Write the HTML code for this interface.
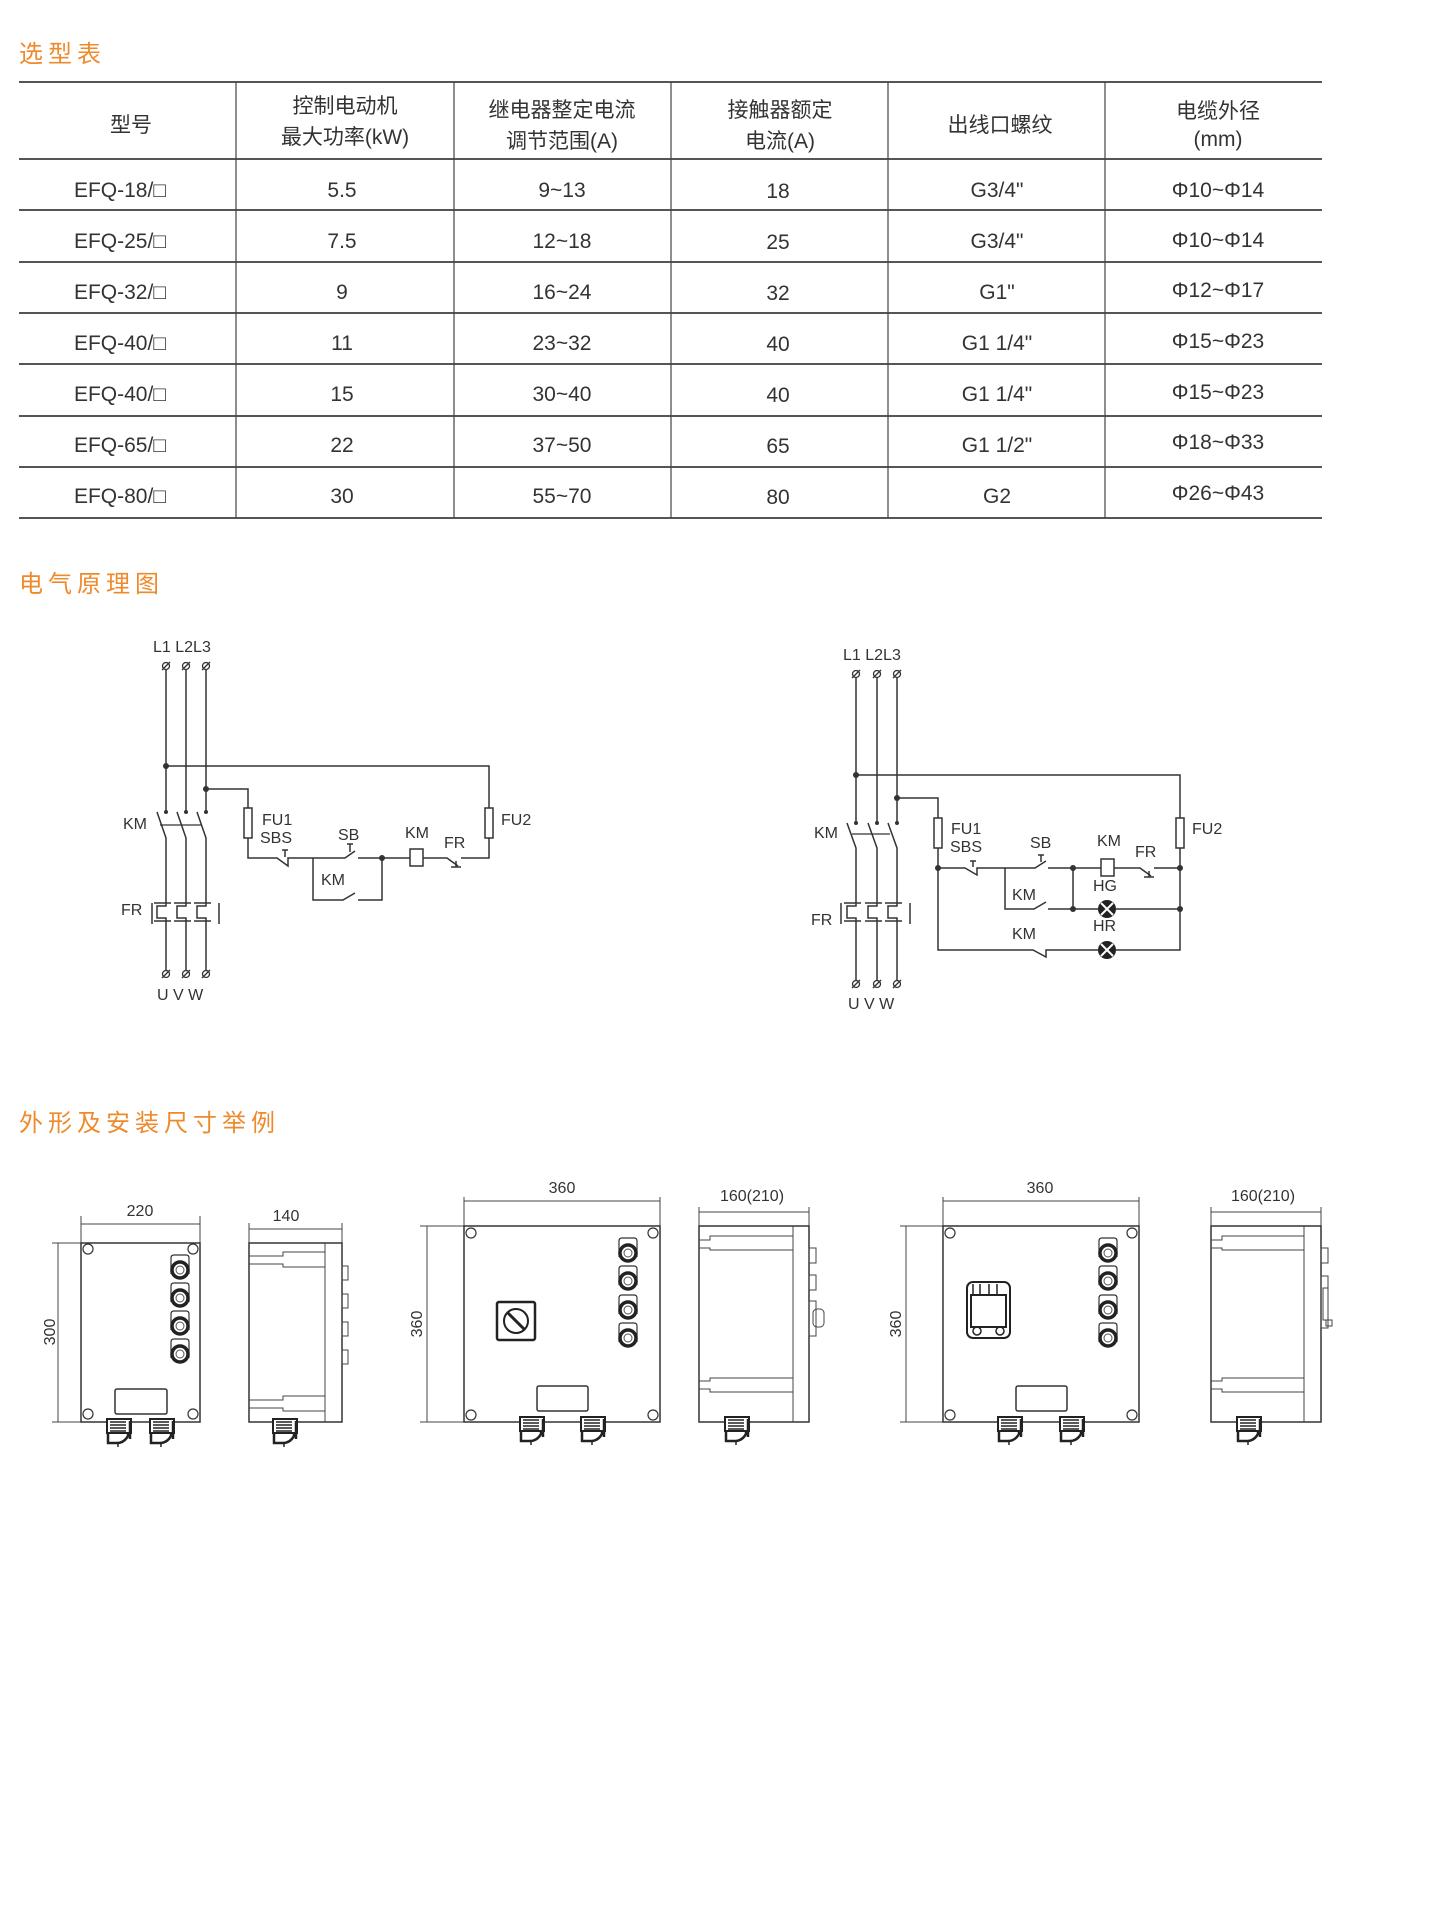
<!DOCTYPE html>
<html><head><meta charset="utf-8"><style>
html,body{margin:0;padding:0;background:#fff;}
svg{display:block;}
text{font-family:"Liberation Sans","Noto Sans CJK SC",sans-serif;fill:#333;}
.t{font-size:21px;text-anchor:middle;}
.o{fill:#ef8a2c;font-size:24px;letter-spacing:5px;}
.c{font-size:16px;fill:#333;}
.w{stroke:#333;stroke-width:1.5;fill:none;}
.d{stroke:#444;stroke-width:1;fill:none;}
</style></head><body>
<svg width="1443" height="1913" viewBox="0 0 1443 1913" xmlns="http://www.w3.org/2000/svg">
<defs>
<g id="term"><circle cx="0" cy="0" r="3.5" fill="#fff" stroke="#333" stroke-width="1.3"/><line x1="-4" y1="4" x2="4" y2="-4" stroke="#333" stroke-width="1.3"/></g>
<g id="fr"><path d="M0,895V903M-12,903H5M0,903V906H-9V918H0V921M-12,921H5M0,921V928" stroke="#333" stroke-width="1.5" fill="none"/></g>
<g id="btn"><path d="M-9,6V-10Q-9,-13 -6,-13H6Q9,-13 9,-10V6" stroke="#333" stroke-width="1.2" fill="none"/><circle cx="0" cy="2" r="8" fill="#fff" stroke="#222" stroke-width="3.5"/><circle cx="0" cy="2" r="4" fill="#fff" stroke="#555" stroke-width="1"/></g>
<g id="gland"><rect x="-12" y="0" width="24" height="14" fill="#fff" stroke="#222" stroke-width="2"/><path d="M-9,3H7M-9,6H7M-9,9H7M-9,12H7" stroke="#222" stroke-width="1.5"/><path d="M-11,14V24H-2Q5,24 9,17V14" stroke="#222" stroke-width="2.5" fill="none"/><line x1="-1" y1="24" x2="-1" y2="28" stroke="#222" stroke-width="1.5"/><path d="M11,2V20" stroke="#222" stroke-width="2.5"/></g>
<g id="hole"><circle r="5" fill="#fff" stroke="#333" stroke-width="1.2"/></g>
</defs>

<text class="o" x="19" y="62">选型表</text>

<line x1="19" y1="82" x2="1322" y2="82" stroke="#555" stroke-width="2"/>
<line x1="19" y1="159" x2="1322" y2="159" stroke="#555" stroke-width="2"/>
<g stroke="#555" stroke-width="2">
<line x1="19" y1="210" x2="1322" y2="210"/><line x1="19" y1="262" x2="1322" y2="262"/>
<line x1="19" y1="313" x2="1322" y2="313"/><line x1="19" y1="364" x2="1322" y2="364"/>
<line x1="19" y1="416" x2="1322" y2="416"/><line x1="19" y1="467" x2="1322" y2="467"/>
<line x1="19" y1="518" x2="1322" y2="518"/>
</g>
<g stroke="#444" stroke-width="1.2">
<line x1="236" y1="82" x2="236" y2="518"/><line x1="454" y1="82" x2="454" y2="518"/>
<line x1="671" y1="82" x2="671" y2="518"/><line x1="888" y1="82" x2="888" y2="518"/>
<line x1="1105" y1="82" x2="1105" y2="518"/>
</g>
<text class="t" x="131" y="132">型号</text>
<text class="t" x="345" y="113">控制电动机</text><text class="t" x="345" y="144">最大功率(kW)</text>
<text class="t" x="562" y="117">继电器整定电流</text><text class="t" x="562" y="148">调节范围(A)</text>
<text class="t" x="780" y="117">接触器额定</text><text class="t" x="780" y="148">电流(A)</text>
<text class="t" x="1000" y="132">出线口螺纹</text>
<text class="t" x="1218" y="118">电缆外径</text><text class="t" x="1218" y="146">(mm)</text>

<g>
<text class="t" x="120" y="197">EFQ-18/□</text><text class="t" x="342" y="197">5.5</text><text class="t" x="562" y="197">9~13</text><text class="t" x="778" y="198">18</text><text class="t" x="997" y="197">G3/4"</text><text class="t" x="1218" y="197">Φ10~Φ14</text>
<text class="t" x="120" y="248">EFQ-25/□</text><text class="t" x="342" y="248">7.5</text><text class="t" x="562" y="248">12~18</text><text class="t" x="778" y="249">25</text><text class="t" x="997" y="248">G3/4"</text><text class="t" x="1218" y="247">Φ10~Φ14</text>
<text class="t" x="120" y="299">EFQ-32/□</text><text class="t" x="342" y="299">9</text><text class="t" x="562" y="299">16~24</text><text class="t" x="778" y="300">32</text><text class="t" x="997" y="299">G1"</text><text class="t" x="1218" y="297">Φ12~Φ17</text>
<text class="t" x="120" y="350">EFQ-40/□</text><text class="t" x="342" y="350">11</text><text class="t" x="562" y="350">23~32</text><text class="t" x="778" y="351">40</text><text class="t" x="997" y="350">G1 1/4"</text><text class="t" x="1218" y="348">Φ15~Φ23</text>
<text class="t" x="120" y="401">EFQ-40/□</text><text class="t" x="342" y="401">15</text><text class="t" x="562" y="401">30~40</text><text class="t" x="778" y="402">40</text><text class="t" x="997" y="401">G1 1/4"</text><text class="t" x="1218" y="399">Φ15~Φ23</text>
<text class="t" x="120" y="452">EFQ-65/□</text><text class="t" x="342" y="452">22</text><text class="t" x="562" y="452">37~50</text><text class="t" x="778" y="453">65</text><text class="t" x="997" y="452">G1 1/2"</text><text class="t" x="1218" y="449">Φ18~Φ33</text>
<text class="t" x="120" y="503">EFQ-80/□</text><text class="t" x="342" y="503">30</text><text class="t" x="562" y="503">55~70</text><text class="t" x="778" y="504">80</text><text class="t" x="997" y="503">G2</text><text class="t" x="1218" y="500">Φ26~Φ43</text>
</g>

<text class="o" x="19" y="592">电气原理图</text>

<!-- Circuit 1 -->
<g class="w">
<path d="M166,670V811M186,670V811M206,670V811"/>
<path d="M157,812L166,838V895M177,812L186,838V895M197,812L206,838V895"/>
<path d="M160,825H202" stroke-width="1.2"/>
<path d="M166,928V970M186,928V970M206,928V970"/>
<path d="M152,903V924M219,903V924"/>
<path d="M166,766H489V808M206,789H248V808"/>
<rect x="244" y="808" width="8" height="30"/><rect x="485" y="808" width="8" height="30"/>
<path d="M248,838V858H277L288,866V858H345L355,851M358,858H410M423,858H447L458,866M461,858H489V838"/>
<path d="M282,850H288M285,850V857M451,867H461M456,867V861"/>
<path d="M347,844H353M350,844V852"/>
<rect x="410" y="849" width="13" height="17"/>
<path d="M313,858V900H343L355,893M358,900H382V858"/>
</g>
<g fill="#333"><circle cx="166" cy="766" r="3"/><circle cx="206" cy="789" r="3"/><circle cx="382" cy="858" r="3"/>
<circle cx="166" cy="812" r="2"/><circle cx="186" cy="812" r="2"/><circle cx="206" cy="812" r="2"/></g>
<use href="#fr" x="166"/><use href="#fr" x="186"/><use href="#fr" x="206"/>
<use href="#term" x="166" y="666"/><use href="#term" x="186" y="666"/><use href="#term" x="206" y="666"/>
<use href="#term" x="166" y="974"/><use href="#term" x="186" y="974"/><use href="#term" x="206" y="974"/>
<text class="c" x="153" y="652">L1 L2L3</text>
<text class="c" x="123" y="829">KM</text><text class="c" x="121" y="915">FR</text>
<text class="c" x="262" y="825">FU1</text><text class="c" x="260" y="843">SBS</text>
<text class="c" x="338" y="840">SB</text><text class="c" x="405" y="838">KM</text><text class="c" x="444" y="848">FR</text>
<text class="c" x="501" y="825">FU2</text><text class="c" x="321" y="885">KM</text>
<text class="c" x="157" y="1000">U  V  W</text>

<!-- Circuit 2 -->
<g class="w">
<path d="M856,678V822M877,678V822M897,678V822"/>
<path d="M847,823L856,848V895M868,823L877,848V895M888,823L897,848V895"/>
<path d="M852,834H890" stroke-width="1.2"/>
<path d="M856,928V980M877,928V980M897,928V980"/>
<path d="M841,903V924M910,903V924"/>
<path d="M856,775H1180V818M897,798H938V818"/>
<rect x="934" y="818" width="8" height="30"/><rect x="1176" y="818" width="8" height="30"/>
<path d="M938,848V950H1033L1046,957V950H1098M1116,950H1180V848"/>
<path d="M938,868H965L977,875V868H1035L1046,861M1048,868H1101M1114,868H1140L1151,876M1154,868H1180"/>
<path d="M970,861H976M973,861V867M1144,877H1154M1149,877V871M1038,855H1044M1041,855V862"/>
<rect x="1101" y="859" width="13" height="17"/>
<path d="M1005,868V909H1034L1046,902M1048,909H1098M1116,909H1180M1073,868V909"/>
</g>
<g fill="#333"><circle cx="856" cy="775" r="3"/><circle cx="897" cy="798" r="3"/><circle cx="938" cy="868" r="3"/><circle cx="1073" cy="868" r="3"/><circle cx="1073" cy="909" r="3"/><circle cx="1180" cy="868" r="3"/><circle cx="1180" cy="909" r="3"/>
<circle cx="856" cy="823" r="2"/><circle cx="877" cy="823" r="2"/><circle cx="897" cy="823" r="2"/></g>
<g transform="translate(690,0)"><use href="#fr" x="166"/><use href="#fr" x="187"/><use href="#fr" x="207"/></g>
<g><circle cx="1107" cy="909" r="9" fill="#222"/><path d="M1101,903L1113,915M1113,903L1101,915" stroke="#fff" stroke-width="2"/>
<circle cx="1107" cy="950" r="9" fill="#222"/><path d="M1101,944L1113,956M1113,944L1101,956" stroke="#fff" stroke-width="2"/></g>
<use href="#term" x="856" y="674"/><use href="#term" x="877" y="674"/><use href="#term" x="897" y="674"/>
<use href="#term" x="856" y="984"/><use href="#term" x="877" y="984"/><use href="#term" x="897" y="984"/>
<text class="c" x="843" y="660">L1 L2L3</text>
<text class="c" x="814" y="838">KM</text><text class="c" x="811" y="925">FR</text>
<text class="c" x="951" y="834">FU1</text><text class="c" x="950" y="852">SBS</text>
<text class="c" x="1030" y="848">SB</text><text class="c" x="1097" y="846">KM</text><text class="c" x="1135" y="857">FR</text>
<text class="c" x="1192" y="834">FU2</text><text class="c" x="1012" y="900">KM</text>
<text class="c" x="1093" y="891">HG</text><text class="c" x="1093" y="931">HR</text><text class="c" x="1012" y="939">KM</text>
<text class="c" x="848" y="1009">U  V  W</text>

<text class="o" x="19" y="1131">外形及安装尺寸举例</text>

<!-- Box 1 front -->
<g class="d">
<line x1="81" y1="1216" x2="81" y2="1243"/><line x1="200" y1="1216" x2="200" y2="1243"/>
<line x1="81" y1="1224" x2="200" y2="1224"/>
<line x1="52" y1="1243" x2="81" y2="1243"/><line x1="52" y1="1422" x2="81" y2="1422"/>
<line x1="58" y1="1243" x2="58" y2="1422"/>
</g>
<rect x="81" y="1243" width="119" height="179" fill="none" stroke="#333" stroke-width="1.5"/>
<use href="#hole" x="88" y="1249"/><use href="#hole" x="193" y="1249"/><use href="#hole" x="88" y="1414"/><use href="#hole" x="193" y="1414"/>
<use href="#btn" x="180" y="1268"/><use href="#btn" x="180" y="1296"/><use href="#btn" x="180" y="1324"/><use href="#btn" x="180" y="1352"/>
<rect x="115" y="1389" width="52" height="25" rx="2" fill="none" stroke="#333" stroke-width="1.5"/>
<use href="#gland" x="119" y="1419"/><use href="#gland" x="162" y="1419"/>
<text class="c" x="140" y="1216" text-anchor="middle">220</text>
<text class="c" transform="translate(55,1332) rotate(-90)" text-anchor="middle">300</text>
<!-- Box 1 side -->
<g class="d"><line x1="249" y1="1223" x2="249" y2="1243"/><line x1="342" y1="1223" x2="342" y2="1243"/><line x1="249" y1="1229" x2="342" y2="1229"/></g>
<rect x="249" y="1243" width="93" height="179" fill="none" stroke="#333" stroke-width="1.5"/>
<g class="d"><line x1="325" y1="1243" x2="325" y2="1422"/>
<path d="M249,1256H283V1252H325M249,1264H283V1267H325M249,1400H283V1396H325M249,1408H283V1411H325"/>
<rect x="342" y="1266" width="6" height="14"/><rect x="342" y="1294" width="6" height="14"/><rect x="342" y="1322" width="6" height="14"/><rect x="342" y="1350" width="6" height="14"/></g>
<use href="#gland" x="285" y="1419"/>
<text class="c" x="286" y="1221" text-anchor="middle">140</text>

<!-- Box 2 front -->
<g class="d">
<line x1="464" y1="1197" x2="464" y2="1226"/><line x1="660" y1="1197" x2="660" y2="1226"/>
<line x1="464" y1="1201" x2="660" y2="1201"/>
<line x1="420" y1="1226" x2="464" y2="1226"/><line x1="420" y1="1422" x2="464" y2="1422"/>
<line x1="427" y1="1226" x2="427" y2="1422"/>
</g>
<rect x="464" y="1226" width="196" height="196" fill="none" stroke="#333" stroke-width="1.5"/>
<use href="#hole" x="471" y="1233"/><use href="#hole" x="653" y="1233"/><use href="#hole" x="471" y="1415"/><use href="#hole" x="653" y="1415"/>
<use href="#btn" x="628" y="1251"/><use href="#btn" x="628" y="1279"/><use href="#btn" x="628" y="1308"/><use href="#btn" x="628" y="1336"/>
<rect x="497" y="1302" width="38" height="38" rx="2" fill="none" stroke="#222" stroke-width="2.5"/>
<circle cx="516" cy="1321" r="12" fill="none" stroke="#222" stroke-width="2"/><line x1="507" y1="1312" x2="525" y2="1330" stroke="#222" stroke-width="3"/>
<rect x="537" y="1386" width="51" height="25" rx="2" fill="none" stroke="#333" stroke-width="1.5"/>
<use href="#gland" x="532" y="1417"/><use href="#gland" x="593" y="1417"/>
<text class="c" x="562" y="1193" text-anchor="middle">360</text>
<text class="c" transform="translate(422,1324) rotate(-90)" text-anchor="middle">360</text>
<!-- Box 2 side -->
<g class="d"><line x1="699" y1="1207" x2="699" y2="1226"/><line x1="809" y1="1207" x2="809" y2="1226"/><line x1="699" y1="1212" x2="809" y2="1212"/></g>
<rect x="699" y="1226" width="110" height="196" fill="none" stroke="#333" stroke-width="1.5"/>
<g class="d"><line x1="793" y1="1226" x2="793" y2="1422"/>
<path d="M699,1240H710V1236H793M699,1248H710V1250H793M699,1381H710V1378H793M699,1389H710V1392H793"/>
<rect x="809" y="1248" width="7" height="15"/><rect x="809" y="1275" width="7" height="15"/><rect x="809" y="1301" width="7" height="35"/><rect x="813" y="1309" width="11" height="18" rx="4"/></g>
<use href="#gland" x="737" y="1417"/>
<text class="c" x="752" y="1201" text-anchor="middle">160(210)</text>

<!-- Box 3 front -->
<g class="d">
<line x1="943" y1="1197" x2="943" y2="1226"/><line x1="1139" y1="1197" x2="1139" y2="1226"/>
<line x1="943" y1="1201" x2="1139" y2="1201"/>
<line x1="900" y1="1226" x2="943" y2="1226"/><line x1="900" y1="1422" x2="943" y2="1422"/>
<line x1="906" y1="1226" x2="906" y2="1422"/>
</g>
<rect x="943" y="1226" width="196" height="196" fill="none" stroke="#333" stroke-width="1.5"/>
<use href="#hole" x="950" y="1233"/><use href="#hole" x="1132" y="1233"/><use href="#hole" x="950" y="1415"/><use href="#hole" x="1132" y="1415"/>
<use href="#btn" x="1108" y="1251"/><use href="#btn" x="1108" y="1279"/><use href="#btn" x="1108" y="1308"/><use href="#btn" x="1108" y="1336"/>
<rect x="967" y="1282" width="43" height="56" rx="6" fill="none" stroke="#222" stroke-width="2"/>
<rect x="971" y="1295" width="35" height="32" fill="none" stroke="#222" stroke-width="2"/>
<path d="M973,1284V1294M980,1284V1294M989,1284V1294M997,1284V1294" stroke="#222" stroke-width="1.5"/>
<circle cx="977" cy="1331" r="4" fill="none" stroke="#222" stroke-width="1.5"/><circle cx="1000" cy="1331" r="4" fill="none" stroke="#222" stroke-width="1.5"/>
<rect x="1016" y="1386" width="51" height="25" rx="2" fill="none" stroke="#333" stroke-width="1.5"/>
<use href="#gland" x="1010" y="1417"/><use href="#gland" x="1072" y="1417"/>
<text class="c" x="1040" y="1193" text-anchor="middle">360</text>
<text class="c" transform="translate(901,1324) rotate(-90)" text-anchor="middle">360</text>
<!-- Box 3 side -->
<g class="d"><line x1="1211" y1="1207" x2="1211" y2="1226"/><line x1="1321" y1="1207" x2="1321" y2="1226"/><line x1="1211" y1="1212" x2="1321" y2="1212"/></g>
<rect x="1211" y="1226" width="110" height="196" fill="none" stroke="#333" stroke-width="1.5"/>
<g class="d"><line x1="1304" y1="1226" x2="1304" y2="1422"/>
<path d="M1211,1240H1222V1236H1304M1211,1248H1222V1250H1304M1211,1381H1222V1378H1304M1211,1389H1222V1392H1304"/>
<rect x="1321" y="1248" width="7" height="15"/><rect x="1321" y="1276" width="7" height="52"/><rect x="1323" y="1288" width="5" height="32"/><rect x="1326" y="1320" width="6" height="6"/></g>
<use href="#gland" x="1249" y="1417"/>
<text class="c" x="1263" y="1201" text-anchor="middle">160(210)</text>
</svg>
</body></html>
